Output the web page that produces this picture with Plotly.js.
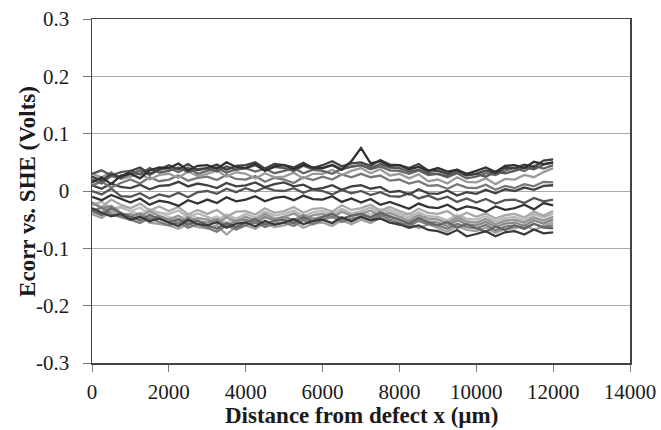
<!DOCTYPE html>
<html>
<head>
<meta charset="utf-8">
<script src="https://cdn.plot.ly/plotly-3.0.1.min.js"></script>
<style>html,body{margin:0;padding:0;background:#fff;}#chart{width:661px;height:430px;}</style>
</head>
<body>
<div id="chart"></div>
<script>
// Distance from defect (µm)
const distance = [0,250,500,750,1000,1250,1500,1750,2000,2250,2500,2750,3000,3250,3500,3750,4000,4250,4500,4750,5000,5250,5500,5750,6000,6250,6500,6750,7000,7250,7500,7750,8000,8250,8500,8750,9000,9250,9500,9750,10000,10250,10500,10750,11000,11250,11500,11750,12000];

// Ecorr vs. SHE (Volts), one array per scan
const scanA = [0.025,0.018,0.030,0.024, 0.035,0.041,0.030,0.038, 0.045,0.038,0.047,0.036, 0.040,0.046,0.037,0.044, 0.045,0.050,0.039,0.047, 0.045,0.041,0.049,0.040, 0.045,0.052,0.043,0.048, 0.050,0.044,0.054,0.046, 0.045,0.040,0.047,0.036, 0.035,0.030,0.037,0.028, 0.030,0.036,0.031,0.041, 0.040,0.046,0.042,0.053, 0.055];
const scanB = [0.015,0.024,0.012,0.027, 0.030,0.022,0.036,0.041, 0.040,0.048,0.036,0.044, 0.045,0.039,0.050,0.042, 0.040,0.047,0.035,0.043, 0.045,0.038,0.046,0.041, 0.040,0.045,0.037,0.052, 0.075,0.048,0.052,0.044, 0.045,0.038,0.042,0.035, 0.040,0.034,0.037,0.030, 0.035,0.041,0.033,0.044, 0.045,0.040,0.051,0.047, 0.050];
const scanC = [0.030,0.036,0.027,0.033, 0.035,0.029,0.040,0.032, 0.035,0.041,0.033,0.038, 0.040,0.034,0.043,0.037, 0.040,0.045,0.036,0.042, 0.040,0.035,0.044,0.038, 0.040,0.046,0.038,0.043, 0.045,0.040,0.047,0.041, 0.040,0.034,0.037,0.031, 0.030,0.026,0.033,0.027, 0.030,0.025,0.034,0.031, 0.035,0.041,0.038,0.046, 0.050];
const scanD = [0.020,0.013,0.026,0.022, 0.030,0.036,0.028,0.037, 0.040,0.033,0.041,0.030, 0.035,0.041,0.032,0.038, 0.040,0.034,0.039,0.031, 0.035,0.040,0.031,0.037, 0.035,0.030,0.039,0.042, 0.045,0.038,0.043,0.036, 0.035,0.030,0.036,0.028, 0.030,0.024,0.031,0.022, 0.025,0.031,0.028,0.036, 0.040,0.035,0.044,0.039, 0.045];
const scanE = [0.030,0.024,0.033,0.021, 0.025,0.031,0.020,0.028, 0.030,0.023,0.034,0.026, 0.030,0.036,0.025,0.033, 0.030,0.022,0.031,0.024, 0.025,0.032,0.022,0.030, 0.030,0.037,0.028,0.035, 0.040,0.031,0.038,0.027, 0.030,0.022,0.029,0.017, 0.020,0.013,0.024,0.016, 0.015,0.022,0.012,0.021, 0.020,0.028,0.024,0.033, 0.040];
const scanF = [0.010,0.016,0.006,0.014, 0.020,0.013,0.024,0.017, 0.020,0.027,0.018,0.023, 0.025,0.019,0.028,0.021, 0.020,0.026,0.016,0.023, 0.020,0.014,0.024,0.019, 0.025,0.020,0.029,0.024, 0.030,0.024,0.027,0.018, 0.020,0.013,0.017,0.009, 0.010,0.004,0.012,0.006, 0.005,0.011,0.002,0.009, 0.005,0.012,0.008,0.016, 0.015];
const scanG = [0.010,0.004,0.013,0.007, 0.005,0.011,0.003,0.009, 0.010,0.016,0.008,0.013, 0.010,0.005,0.014,0.008, 0.010,0.015,0.007,0.012, 0.015,0.008,0.011,0.003, 0.005,0.010,0.002,0.008, 0.010,0.004,0.007,-0.002, 0.000,-0.006,0.003,-0.004, -0.005,0.001,-0.008,-0.002, -0.005,0.002,-0.004,0.003, 0.000,0.006,0.002,0.009, 0.010];
const scanH = [0.000,-0.006,0.004,-0.009, -0.010,-0.004,-0.013,-0.006, -0.010,-0.003,-0.011,-0.002, 0.000,-0.005,0.004,-0.002, 0.005,-0.001,0.006,0.001, 0.000,0.005,-0.003,0.003, 0.000,-0.006,0.002,-0.004, 0.000,-0.007,-0.002,-0.009, -0.010,-0.004,-0.013,-0.008, -0.015,-0.010,-0.019,-0.013, -0.020,-0.014,-0.022,-0.016, -0.015,-0.021,-0.012,-0.018, -0.015];
const scanI = [-0.010,-0.016,-0.007,-0.014, -0.020,-0.013,-0.024,-0.017, -0.020,-0.026,-0.016,-0.022, -0.015,-0.021,-0.011,-0.018, -0.015,-0.009,-0.018,-0.012, -0.010,-0.016,-0.008,-0.014, -0.015,-0.009,-0.019,-0.013, -0.020,-0.014,-0.024,-0.019, -0.025,-0.031,-0.022,-0.028, -0.030,-0.024,-0.033,-0.027, -0.030,-0.036,-0.027,-0.033, -0.030,-0.024,-0.032,-0.021, -0.025];
const scanJ = [-0.020,-0.028,-0.015,-0.024, -0.030,-0.022,-0.034,-0.027, -0.035,-0.028,-0.041,-0.033, -0.040,-0.033,-0.045,-0.036, -0.035,-0.041,-0.030,-0.038, -0.035,-0.028,-0.038,-0.031, -0.030,-0.036,-0.025,-0.033, -0.030,-0.024,-0.034,-0.028, -0.035,-0.041,-0.031,-0.038, -0.040,-0.035,-0.046,-0.038, -0.045,-0.039,-0.048,-0.042, -0.040,-0.046,-0.036,-0.043, -0.035];
const scanK = [-0.025,-0.019,-0.031,-0.028, -0.035,-0.041,-0.032,-0.038, -0.040,-0.034,-0.046,-0.039, -0.045,-0.051,-0.041,-0.048, -0.040,-0.046,-0.036,-0.043, -0.040,-0.034,-0.044,-0.037, -0.035,-0.041,-0.031,-0.039, -0.035,-0.029,-0.038,-0.033, -0.040,-0.046,-0.037,-0.044, -0.045,-0.051,-0.042,-0.048, -0.050,-0.044,-0.053,-0.047, -0.045,-0.051,-0.041,-0.046, -0.040];
const scanL = [-0.030,-0.037,-0.026,-0.041, -0.040,-0.046,-0.035,-0.044, -0.050,-0.043,-0.055,-0.047, -0.050,-0.057,-0.046,-0.053, -0.045,-0.051,-0.040,-0.048, -0.045,-0.039,-0.049,-0.042, -0.040,-0.046,-0.036,-0.043, -0.040,-0.034,-0.044,-0.038, -0.045,-0.051,-0.042,-0.048, -0.050,-0.056,-0.046,-0.053, -0.055,-0.049,-0.058,-0.052, -0.050,-0.055,-0.046,-0.051, -0.045];
const scanM = [-0.020,-0.030,-0.026,-0.038, -0.045,-0.039,-0.050,-0.043, -0.050,-0.056,-0.046,-0.053, -0.055,-0.049,-0.060,-0.052, -0.050,-0.056,-0.045,-0.051, -0.045,-0.051,-0.042,-0.048, -0.045,-0.039,-0.049,-0.043, -0.040,-0.046,-0.037,-0.044, -0.050,-0.055,-0.047,-0.053, -0.055,-0.061,-0.051,-0.058, -0.060,-0.054,-0.063,-0.057, -0.055,-0.061,-0.051,-0.057, -0.050];
const scanN = [-0.030,-0.038,-0.044,-0.040, -0.050,-0.045,-0.053,-0.048, -0.055,-0.061,-0.050,-0.058, -0.060,-0.054,-0.064,-0.057, -0.055,-0.062,-0.052,-0.059, -0.055,-0.049,-0.058,-0.052, -0.050,-0.056,-0.046,-0.053, -0.045,-0.051,-0.048,-0.055, -0.058,-0.064,-0.060,-0.068, -0.070,-0.076,-0.068,-0.079, -0.075,-0.070,-0.079,-0.072, -0.070,-0.076,-0.067,-0.074, -0.072];
const scanO = [-0.035,-0.029,-0.041,-0.045, -0.050,-0.056,-0.047,-0.054, -0.060,-0.055,-0.064,-0.058, -0.065,-0.071,-0.060,-0.067, -0.060,-0.054,-0.063,-0.057, -0.055,-0.061,-0.051,-0.058, -0.050,-0.045,-0.054,-0.048, -0.045,-0.051,-0.042,-0.050, -0.055,-0.061,-0.052,-0.058, -0.060,-0.066,-0.057,-0.063, -0.065,-0.059,-0.069,-0.062, -0.060,-0.066,-0.057,-0.063, -0.060];
const scanP = [-0.040,-0.047,-0.036,-0.044, -0.050,-0.044,-0.055,-0.057, -0.060,-0.066,-0.057,-0.063, -0.065,-0.060,-0.076,-0.062, -0.060,-0.066,-0.056,-0.063, -0.060,-0.054,-0.064,-0.057, -0.055,-0.061,-0.051,-0.058, -0.050,-0.056,-0.047,-0.054, -0.060,-0.055,-0.065,-0.058, -0.065,-0.071,-0.061,-0.068, -0.070,-0.064,-0.073,-0.066, -0.065,-0.059,-0.068,-0.061, -0.055];
const scanQ = [-0.035,-0.042,-0.030,-0.039, -0.045,-0.051,-0.042,-0.049, -0.055,-0.049,-0.059,-0.052, -0.060,-0.066,-0.056,-0.063, -0.055,-0.049,-0.059,-0.052, -0.050,-0.056,-0.046,-0.053, -0.045,-0.040,-0.049,-0.043, -0.040,-0.046,-0.038,-0.045, -0.050,-0.057,-0.047,-0.055, -0.060,-0.054,-0.064,-0.058, -0.065,-0.071,-0.062,-0.068, -0.060,-0.066,-0.057,-0.064, -0.065];
const scanR = [-0.025,-0.018,-0.033,-0.029, -0.035,-0.029,-0.041,-0.037, -0.045,-0.051,-0.040,-0.048, -0.050,-0.044,-0.055,-0.047, -0.050,-0.056,-0.046,-0.053, -0.045,-0.039,-0.049,-0.042, -0.040,-0.046,-0.036,-0.043, -0.035,-0.041,-0.032,-0.039, -0.045,-0.039,-0.049,-0.043, -0.050,-0.056,-0.047,-0.053, -0.055,-0.049,-0.058,-0.051, -0.050,-0.056,-0.046,-0.053, -0.050];

const xTicks = [0,2000,4000,6000,8000,10000,12000,14000];
const yTicks = [-0.3,-0.2,-0.1,0,0.1,0.2,0.3];
const yTickText = ['-0.3','-0.2','-0.1','0','0.1','0.2','0.3'];
const xTitle = 'Distance from defect x (µm)';
const yTitle = 'Ecorr vs. SHE (Volts)';

const scans = [
  [scanR,'#c4c4c4'],[scanK,'#b8b8b8'],[scanJ,'#a8a8a8'],[scanP,'#a0a0a0'],[scanL,'#969696'],
  [scanM,'#888888'],[scanO,'#7a7a7a'],[scanQ,'#666666'],[scanN,'#3a3a3a'],
  [scanI,'#333333'],[scanH,'#555555'],[scanG,'#404040'],[scanF,'#777777'],[scanE,'#9a9a9a'],
  [scanD,'#666666'],[scanC,'#5a5a5a'],[scanA,'#404040'],[scanB,'#303030']
];

const traces = scans.map(([y,c]) => ({
  x: distance, y: y, type: 'scatter', mode: 'lines',
  line: {color: c, width: 2.3}, hoverinfo: 'skip', showlegend: false
}));

const layout = {
  width: 661, height: 430,
  margin: {l: 92, r: 31, t: 19, b: 67},
  paper_bgcolor: '#fff', plot_bgcolor: '#fff',
  font: {family: '"Liberation Serif", "Times New Roman", serif', size: 21, color: '#1a1a1a'},
  showlegend: false,
  xaxis: {
    range: [0, 14000], tickvals: xTicks, ticktext: xTicks.map(String),
    showgrid: false, zeroline: false,
    showline: true, linecolor: '#444', linewidth: 1.5, mirror: true,
    ticks: 'outside', ticklen: 7, tickcolor: '#777', tickwidth: 1,
    ticklabelstandoff: 2,
    tickfont: {size: 21}
  },
  yaxis: {
    range: [-0.3, 0.3], tickvals: yTicks, ticktext: yTickText,
    showgrid: true, gridcolor: '#aaaaaa', gridwidth: 1, zeroline: false,
    showline: true, linecolor: '#444', linewidth: 1.5, mirror: true,
    ticks: 'outside', ticklen: 8, tickcolor: '#777', tickwidth: 1,
    ticklabelstandoff: 9,
    tickfont: {size: 21}
  },
  annotations: [
    {text: '<b>' + xTitle + '</b>', xref: 'paper', yref: 'paper', x: 0.5, y: -0.152,
     xanchor: 'center', yanchor: 'middle', showarrow: false, font: {size: 23}},
    {text: '<b>' + yTitle + '</b>', xref: 'paper', yref: 'paper', x: -0.121, y: 0.5,
     xanchor: 'center', yanchor: 'middle', textangle: -90, showarrow: false, font: {size: 23}}
  ]
};

Plotly.newPlot('chart', traces, layout, {displayModeBar: false, staticPlot: true});
</script>
</body>
</html>
